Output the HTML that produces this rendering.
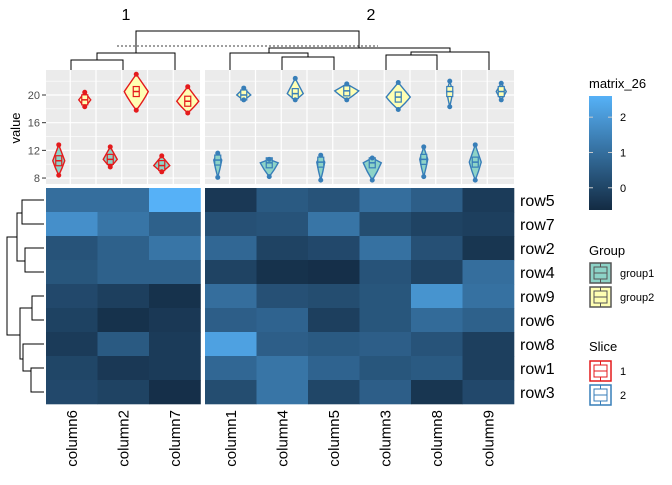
<!DOCTYPE html>
<html><head><meta charset="utf-8"><style>
body{margin:0;background:#fff;}
svg text{font-family:"Liberation Sans",sans-serif;}
</style></head><body>
<svg id="c" width="672" height="480" xmlns="http://www.w3.org/2000/svg"></svg>
<script>
const rows=["row5","row7","row2","row4","row9","row6","row8","row1","row3"];
const leftCols=["column6","column2","column7"];
const rightCols=["column1","column4","column5","column3","column8","column9"];
const heatValues=[
[0.99,0.99,2.60,-0.31,0.50,0.34,0.99,0.60,-0.24],
[1.79,1.15,0.66,0.27,0.34,1.15,0.18,-0.05,-0.15],
[0.34,0.66,1.15,0.82,-0.05,0.08,1.05,0.27,-0.37],
[0.40,0.66,0.66,-0.05,-0.47,-0.53,0.34,-0.05,0.99],
[0.08,-0.15,-0.47,0.99,0.27,0.18,0.40,1.89,1.05],
[-0.08,-0.47,-0.31,0.60,0.73,-0.15,0.40,0.92,0.66],
[-0.24,0.50,-0.24,2.21,0.60,0.50,0.60,0.34,-0.15],
[0.02,-0.31,-0.24,0.82,1.15,0.73,0.40,0.50,-0.15],
[0.08,-0.05,-0.53,0.18,1.15,0.02,0.60,-0.37,0.08]];
const colorTicks=[0,1,2];
const yTicks=[8,12,16,20];
const vioLo1=[8.4,9.6,8.9,8.1,8.2,7.7,7.7,8.2,7.7];
const vioHi1=[12.8,12.5,11.2,11.6,10.7,11.3,10.9,12.5,12.8];
const vioMed1=[10.5,10.7,9.8,10.6,10.2,10.3,10.2,10.7,10.3];
const vioW1=[6,7,8,4,9,4,9,4,6];
const vioLo2=[18.3,17.8,17.4,19.3,19.3,19.3,17.9,18.3,19.3];
const vioHi2=[20.4,23,21.2,21,22.4,21.6,21.8,22,21.7];
const vioMed2=[19.3,20.5,19.1,20,20.2,20.6,19.7,20.5,20.5];
const vioW2=[6,12,11,7,8,12,12,3,5];

const svg=document.getElementById('c');
const NS="http://www.w3.org/2000/svg";
function el(tag,attrs,parent){const e=document.createElementNS(NS,tag);for(const k in attrs)e.setAttribute(k,attrs[k]);(parent||svg).appendChild(e);return e;}
const cw=51.5, topY=188, rh=24;
const allCols=leftCols.concat(rightCols);
function colX(i){return i<3?46+i*cw:205+(i-3)*cw;}
const vmin=-0.63,vmax=2.6;
function colr(v){let t=(v-vmin)/(vmax-vmin);t=Math.max(0,Math.min(1,t));
 const a=[19,43,67],b=[86,177,247];return `rgb(${a.map((x,k)=>Math.round(x+(b[k]-x)*t)).join(',')})`;}
function yv(v){return 95+(20-v)*6.92;}

[[46,200],[205,514]].forEach((p,pi)=>{
 const r=el('rect',{x:p[0],y:70,width:p[1]-p[0],height:114,fill:'#ebebeb'});
 
 
 [10,14,18,22].forEach(v=>el('line',{x1:p[0],x2:p[1],y1:yv(v),y2:yv(v),stroke:'#fff','stroke-width':0.6}));
 yTicks.forEach(v=>el('line',{x1:p[0],x2:p[1],y1:yv(v),y2:yv(v),stroke:'#fff','stroke-width':1.2}));
 const n=pi==0?3:6;
 for(let i=0;i<n*2-1;i++){const x=p[0]+cw/2*(i+1)-(pi==0?1.5:1);el('line',{x1:x,x2:x,y1:70,y2:184,stroke:'#fff','stroke-width':1.2});}
});
yTicks.forEach(v=>{
 el('line',{x1:42,x2:46,y1:yv(v),y2:yv(v),stroke:'#333'});
 const t=el('text',{x:40,y:yv(v)+4,'text-anchor':'end','font-size':11,fill:'#4d4d4d'});t.textContent=v;
 
 
});
const yt=el('text',{x:20,y:128,'text-anchor':'middle','font-size':13,transform:'rotate(-90 20 128)'});yt.textContent='value';



function violin(cx,lo,hi,med,w,fill,stroke,name){
 const g=el('g',{});
 
 
 const a=yv(hi),b=yv(lo),m=yv(med);
 el('path',{d:`M${cx},${a} Q${cx+w*0.6},${m-(m-a)*0.4} ${cx+w},${m} Q${cx+w*0.6},${m+(b-m)*0.5} ${cx},${b} Q${cx-w*0.6},${m+(b-m)*0.5} ${cx-w},${m} Q${cx-w*0.6},${m-(m-a)*0.4} ${cx},${a}Z`,fill:fill,stroke:stroke,'stroke-width':1.4},g);
 el('rect',{x:cx-3,y:m-5,width:6,height:10,fill:fill,stroke:stroke,'stroke-width':1.2},g);
 el('line',{x1:cx-3,x2:cx+3,y1:m,y2:m,stroke:stroke,'stroke-width':1.5},g);
 el('circle',{cx:cx,cy:a,r:2.5,fill:stroke},g);
 el('circle',{cx:cx,cy:b,r:2.5,fill:stroke},g);
}
allCols.forEach((c,i)=>{
 const x=colX(i)+cw/2, s=i<3?'#e41a1c':'#377eb8';
 violin(x-13,vioLo1[i],vioHi1[i],vioMed1[i],vioW1[i],'#8dd3c7',s,'violin-'+c+'-group1');
 violin(x+13,vioLo2[i],vioHi2[i],vioMed2[i],vioW2[i],'#ffffb3',s,'violin-'+c+'-group2');
});

rows.forEach((r,ri)=>{
 allCols.forEach((c,ci)=>{
  const e=el('rect',{x:colX(ci),y:topY+ri*rh,width:cw+0.3,height:rh+0.3,fill:colr(heatValues[ri][ci])});
  
  
 });
 const t=el('text',{x:520,y:topY+ri*rh+18,'font-size':16});t.textContent=r;
 
 
});
allCols.forEach((c,ci)=>{
 const x=colX(ci)+cw/2+5;
 const t=el('text',{x:x,y:410,'font-size':15,'text-anchor':'end',transform:`rotate(-90 ${x} 410)`});t.textContent=c;
 
 
});
[[126,'1'],[371,'2']].forEach(p=>{const t=el('text',{x:p[0],y:20,'font-size':16,'text-anchor':'middle'});t.textContent=p[1];
 
 });

const dg=el('g',{stroke:'#000','stroke-width':1,fill:'none'});


["M136,53V31H359V48","M97,60V53H175V70","M71,70V60H123V70",
"M269,53V48H450V52","M230,70V53H308V57","M282,70V57H334V70",
"M411,55V52H489V70","M386,70V55H437V70"].forEach(d=>el('path',{d:d},dg));
el('line',{x1:117,x2:378,y1:46,y2:46,stroke:'#000','stroke-dasharray':'2,2','stroke-width':0.8});
const rg=el('g',{stroke:'#000','stroke-width':1,fill:'none'});


["M17,237H7V335H20","M22,213H17V261H25","M44,200H22V224H44","M44,248H25V272H44",
"M32,308H20V359H23","M44,296H32V320H44","M44,344H23V371H31","M44,368H31V392H44"].forEach(d=>el('path',{d:d},rg));

let t=el('text',{x:589,y:88,'font-size':13});t.textContent='matrix_26';

const defs=el('defs',{});const lg=el('linearGradient',{id:'gr',x1:0,y1:1,x2:0,y2:0},defs);
for(let i=0;i<=10;i++)el('stop',{offset:i/10,'stop-color':colr(vmin+(vmax-vmin)*i/10)},lg);
const cb=el('rect',{x:589,y:96,width:23,height:114,fill:'url(#gr)'});

colorTicks.forEach(v=>{const y=96+(vmax-v)/(vmax-vmin)*114;
 el('line',{x1:589,x2:593,y1:y,y2:y,stroke:'#ccc'});el('line',{x1:608,x2:612,y1:y,y2:y,stroke:'#ccc'});
 const tt=el('text',{x:620,y:y+4,'font-size':11});tt.textContent=v;
 });
function key(y,fill,stroke,label,name){const g=el('g',{});
 
 el('rect',{x:590,y:y,width:21,height:20,fill:fill,stroke:stroke,'stroke-width':1.5},g);
 el('rect',{x:594,y:y+4,width:13,height:12,fill:'none',stroke:stroke,'stroke-width':1},g);
 el('line',{x1:594,x2:607,y1:y+10,y2:y+10,stroke:stroke},g);
 el('line',{x1:600.5,x2:600.5,y1:y,y2:y+4,stroke:stroke},g);el('line',{x1:600.5,x2:600.5,y1:y+16,y2:y+20,stroke:stroke},g);
 const tt=el('text',{x:620,y:y+14,'font-size':11},g);tt.textContent=label;}
t=el('text',{x:589,y:255,'font-size':13});t.textContent='Group';

key(263,'#8dd3c7','#555','group1','legend-group1');
key(287,'#ffffb3','#555','group2','legend-group2');
t=el('text',{x:589,y:351,'font-size':13});t.textContent='Slice';

key(361,'#fff','#e41a1c','1','legend-slice1');
key(385,'#fff','#377eb8','2','legend-slice2');
</script>
</body></html>
